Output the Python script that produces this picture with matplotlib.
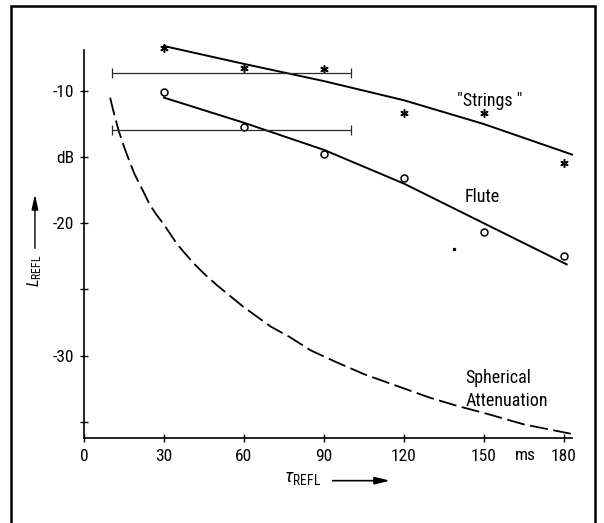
import matplotlib
matplotlib.use('Agg')
import matplotlib.pyplot as plt
from matplotlib import font_manager
from matplotlib.patches import Rectangle

# Data
tau_pts = [30, 60, 90, 120, 150, 180]
strings_pts = [-6.75, -8.28, -8.35, -11.69, -11.69, -15.42]
flute_pts = [-10.05, -12.74, -14.76, -16.56, -20.69, -22.44]

strings_fit_t = [30, 60, 90, 120, 150, 183]
strings_fit = [-6.6, -7.95, -9.25, -10.7, -12.5, -14.8]
flute_fit_t = [30, 60, 90, 120, 150, 181]
flute_fit = [-10.5, -12.4, -14.45, -17.0, -20.0, -23.1]

sph_t = [9.8, 11, 13, 15, 17, 19, 22, 24.7, 27, 30, 35, 41, 45, 50, 59.7, 70, 77.2, 85,
         94.7, 105, 114.7, 130, 140, 151.2, 165, 175, 182.5]
sph_L = [-10.5, -11.5, -13.0, -14.2, -15.3, -16.3, -17.5, -18.6, -19.3, -20.1, -21.6, -23.0,
         -23.8, -24.7, -26.3, -27.8, -28.6, -29.6, -30.5, -31.4, -32.1, -33.2, -33.8, -34.4,
         -35.2, -35.6, -35.9]

# horizontal range bars (center, half width, level)
bar_center = [55.2, 55.2]
bar_half = [44.8, 44.8]
bar_level = [-8.66, -12.95]

stray_t = [138.9]
stray_L = [-21.96]

xticks = [0, 30, 60, 90, 120, 150, 180]
yticks = [-35, -30, -25, -20, -15, -10]
ylabels = ['', '-30', '', '-20', 'dB', '-10']

names = {f.name for f in font_manager.fontManager.ttflist}
fam = 'DejaVu Sans'
for cand in ['Liberation Sans Narrow', 'Roboto Condensed', 'Open Sans Condensed']:
    if cand in names:
        fam = cand
        break
plt.rcParams['font.family'] = [fam, 'DejaVu Sans']
plt.rcParams['font.stretch'] = 'condensed'
plt.rcParams['mathtext.fontset'] = 'custom'
plt.rcParams['mathtext.rm'] = fam + ':stretch=condensed'
plt.rcParams['mathtext.it'] = fam + ':italic:stretch=condensed'
plt.rcParams['lines.scale_dashes'] = False

fig = plt.figure(figsize=(6.04, 5.23), dpi=100)
ax = fig.add_axes([0, 0, 1, 1])
ax.set_xlim(-31.5, 195.0)
ax.set_ylim(-42.65, -3.12)
ax.patch.set_visible(False)

ax.plot(strings_fit_t, strings_fit, color='black', lw=1.4)
ax.plot(flute_fit_t, flute_fit, color='black', lw=1.4)
ax.plot(sph_t, sph_L, color='black', lw=1.3, dashes=(13, 4))
ax.plot(tau_pts, strings_pts, ls='none', marker=(6, 2, 0), ms=6, mew=1.1, color='black')
ax.plot(tau_pts, flute_pts, ls='none', marker='o', ms=5, mfc='white', mec='black', mew=1.1)
ax.plot(stray_t, stray_L, ls='none', marker='.', ms=3, color='black')
ax.errorbar(bar_center, bar_level, xerr=bar_half, fmt='none', ecolor='#2a2a2a',
            elinewidth=0.9, capsize=3.6, capthick=0.9)

for s in ['top', 'right']:
    ax.spines[s].set_visible(False)
ax.spines['left'].set_position(('data', 0))
ax.spines['left'].set_bounds(-36.2, -6.9)
ax.spines['bottom'].set_position(('data', -36.2))
ax.spines['bottom'].set_bounds(0, 183)
ax.spines['left'].set_linewidth(1.2)
ax.spines['bottom'].set_linewidth(1.2)

ax.set_xticks(xticks)
ax.set_xticks([165.7], labels=['ms'], minor=True)
ax.set_yticks(yticks, labels=ylabels)
ax.tick_params(axis='both', which='major', direction='inout', length=6, width=1,
               labelsize=12.5, pad=4)
ax.tick_params(axis='x', which='minor', length=0, labelsize=12.5, pad=7.2)
ax.tick_params(axis='x', which='major', pad=5)

ax.text(152.3, -10.76, '"Strings "', fontsize=13, ha='center', va='center')
ax.text(149.2, -18.0, 'Flute', fontsize=13, ha='center', va='center')
ax.text(142.9, -31.7, 'Spherical', fontsize=13, ha='left', va='center')
ax.text(142.9, -33.4, 'Attenuation', fontsize=13, ha='left', va='center')

# axis titles with arrows
ax.text(-18.4, -23.6, r'$L_{\rm REFL}$', fontsize=12, rotation=90, ha='center', va='center')
ax.annotate('', xy=(-18.4, -17.6), xytext=(-18.4, -22.1),
            arrowprops=dict(arrowstyle='-|>,head_length=0.9,head_width=0.2', color='black', lw=1))
ax.text(82.0, -39.25, r'$\tau_{\rm REFL}$', fontsize=14, ha='center', va='center')
ax.annotate('', xy=(115.8, -39.45), xytext=(92.2, -39.45),
            arrowprops=dict(arrowstyle='-|>,head_length=0.9,head_width=0.22', color='black', lw=1.2))

fig.patches.append(Rectangle((11 / 604, -0.02), 584 / 604, (517 / 523) + 0.02, fill=False,
                             lw=1.8, ec='black', transform=fig.transFigure))

fig.savefig('out.png', dpi=100)
